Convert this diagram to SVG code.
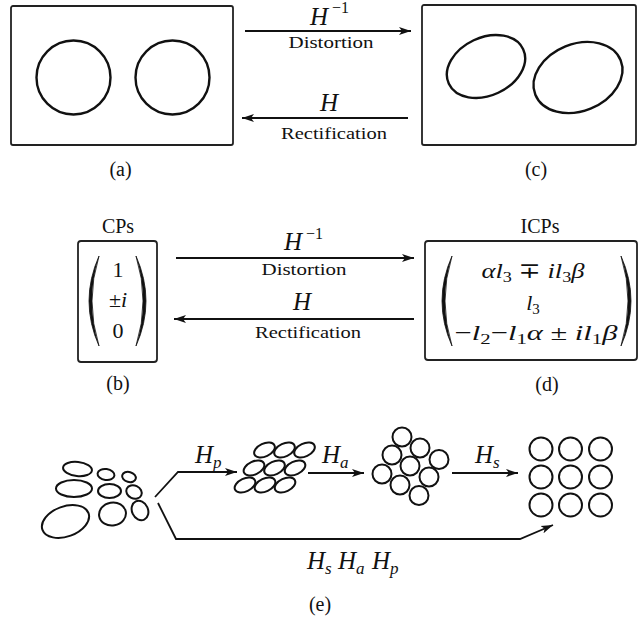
<svg xmlns="http://www.w3.org/2000/svg" width="639" height="628" viewBox="0 0 639 628">
<style>
  .box { fill: none; stroke: #222; stroke-width: 1.8; }
  .shape { fill: none; stroke: #111; stroke-width: 2.4; }
  .small { fill: none; stroke: #111; stroke-width: 2; }
  .line { fill: none; stroke: #111; stroke-width: 1.8; }
  .paren { fill: #111; stroke: #111; stroke-width: 0.8; }
  text { font-family: 'Liberation Serif', 'Times New Roman', 'DejaVu Serif', serif; fill: #111; }
  .lbl { font-size: 20px; text-anchor: middle; }
  .word { font-size: 16px; text-anchor: middle; }
  .math { font-size: 25px; font-style: italic; }
  .mat { font-size: 22px; text-anchor: middle; }
  .it { font-style: italic; }
</style>
<defs>
  <marker id="arr" markerUnits="userSpaceOnUse" markerWidth="13" markerHeight="9" refX="12" refY="4.5" orient="auto">
    <path d="M0,0.5 L12,4.5 L0,8.5 L3,4.5 Z" fill="#111"/>
  </marker>
</defs>

<g font-family="Liberation Serif, Times New Roman, serif">
<!-- (a) -->
<g id="node-a">
  <rect class="box" x="11" y="6" width="222" height="139" rx="2"/>
  <circle class="shape" cx="73.5" cy="77.5" r="37"/>
  <circle class="shape" cx="172.5" cy="77.5" r="37"/>
  <text class="lbl" x="120.5" y="176">(a)</text>
</g>

<!-- (c) -->
<g id="node-c">
  <rect class="box" x="422" y="5" width="214" height="140" rx="2"/>
  <ellipse class="shape" cx="486" cy="66.5" rx="41" ry="29" transform="rotate(-25 486 66.5)"/>
  <ellipse class="shape" cx="578" cy="77.5" rx="46" ry="33.5" transform="rotate(-22 578 77.5)"/>
  <text class="lbl" x="536" y="176">(c)</text>
</g>

<!-- (b) -->
<g id="node-b">
  <text class="lbl" x="118" y="233">CPs</text>
  <rect class="box" x="78" y="241" width="79" height="121" rx="3"/>
  <path class="paren" d="M99,256 Q79,301 99,346 Q85,301 99,256 Z"/>
  <path class="paren" d="M136,256 Q156,301 136,346 Q150,301 136,256 Z"/>
  <text class="mat" x="118" y="277">1</text>
  <text class="mat" x="118" y="307">±<tspan class="it">i</tspan></text>
  <text class="mat" x="118" y="338">0</text>
  <text class="lbl" x="118" y="390">(b)</text>
</g>

<!-- (d) -->
<g id="node-d">
  <text class="lbl" x="540" y="233">ICPs</text>
  <rect class="box" x="425" y="241" width="212" height="119" rx="3"/>
  <path class="paren" d="M452,256 Q432,301 452,346 Q438,301 452,256 Z"/>
  <path class="paren" d="M621,256 Q641,301 621,346 Q635,301 621,256 Z"/>
  <text class="mat" x="533" y="278" textLength="103" lengthAdjust="spacingAndGlyphs"><tspan class="it">αl</tspan><tspan font-size="15" dy="4">3</tspan><tspan dy="-4"> ∓ </tspan><tspan class="it">il</tspan><tspan font-size="15" dy="4">3</tspan><tspan class="it" dy="-4">β</tspan></text>
  <text class="mat" x="533" y="310"><tspan class="it">l</tspan><tspan font-size="15" dy="4">3</tspan></text>
  <text class="mat" x="536" y="340" textLength="163" lengthAdjust="spacingAndGlyphs">−<tspan class="it">l</tspan><tspan font-size="15" dy="4">2</tspan><tspan dy="-4">−</tspan><tspan class="it">l</tspan><tspan font-size="15" dy="4">1</tspan><tspan class="it" dy="-4">α</tspan><tspan> ± </tspan><tspan class="it">il</tspan><tspan font-size="15" dy="4">1</tspan><tspan class="it" dy="-4">β</tspan></text>
  <text class="lbl" x="547" y="391">(d)</text>
</g>

<!-- (e) stages -->
<g id="node-e1">
  <ellipse class="small" cx="77.5" cy="469" rx="14.5" ry="7" transform="rotate(6 77.5 469)"/>
  <ellipse class="small" cx="106" cy="474.5" rx="8.5" ry="5.5" transform="rotate(8 106 474.5)"/>
  <ellipse class="small" cx="129" cy="477" rx="7" ry="5" transform="rotate(15 129 477)"/>
  <ellipse class="small" cx="74" cy="488.5" rx="18" ry="8.5"/>
  <ellipse class="small" cx="109.5" cy="491" rx="11.5" ry="7"/>
  <ellipse class="small" cx="134" cy="492" rx="8" ry="6.5" transform="rotate(25 134 492)"/>
  <ellipse class="small" cx="65.5" cy="521.5" rx="24.5" ry="15" transform="rotate(-20 65.5 521.5)"/>
  <ellipse class="small" cx="112.5" cy="514" rx="13.5" ry="11.5" transform="rotate(-10 112.5 514)"/>
  <ellipse class="small" cx="140" cy="510.5" rx="8" ry="10" transform="rotate(-25 140 510.5)"/>
</g>

<g id="node-e2">
  <ellipse class="small" cx="264.5" cy="450" rx="11" ry="6.5" transform="rotate(-25 264.5 450)"/>
  <ellipse class="small" cx="284.5" cy="450" rx="11" ry="6.5" transform="rotate(-25 284.5 450)"/>
  <ellipse class="small" cx="304.5" cy="450" rx="11" ry="6.5" transform="rotate(-25 304.5 450)"/>
  <ellipse class="small" cx="254" cy="468" rx="11" ry="6.5" transform="rotate(-25 254 468)"/>
  <ellipse class="small" cx="274.5" cy="468" rx="11" ry="6.5" transform="rotate(-25 274.5 468)"/>
  <ellipse class="small" cx="295" cy="468" rx="11" ry="6.5" transform="rotate(-25 295 468)"/>
  <ellipse class="small" cx="245" cy="485" rx="11" ry="6.5" transform="rotate(-25 245 485)"/>
  <ellipse class="small" cx="265" cy="485" rx="11" ry="6.5" transform="rotate(-25 265 485)"/>
  <ellipse class="small" cx="285" cy="485" rx="11" ry="6.5" transform="rotate(-25 285 485)"/>
</g>

<g id="node-e3">
  <circle class="small" cx="402" cy="437" r="9.5"/>
  <circle class="small" cx="420" cy="448" r="9.5"/>
  <circle class="small" cx="439" cy="459.5" r="9.5"/>
  <circle class="small" cx="392" cy="455" r="9.5"/>
  <circle class="small" cx="410" cy="466" r="9.5"/>
  <circle class="small" cx="429" cy="477" r="9.5"/>
  <circle class="small" cx="382" cy="474" r="9.5"/>
  <circle class="small" cx="400" cy="485" r="9.5"/>
  <circle class="small" cx="419" cy="495.5" r="9.5"/>
</g>

<g id="node-e4">
  <circle class="small" cx="541" cy="449" r="11.5"/>
  <circle class="small" cx="570.5" cy="449" r="11.5"/>
  <circle class="small" cx="600.5" cy="449" r="11.5"/>
  <circle class="small" cx="541" cy="477" r="11.5"/>
  <circle class="small" cx="570.5" cy="477" r="11.5"/>
  <circle class="small" cx="600.5" cy="477" r="11.5"/>
  <circle class="small" cx="541" cy="505" r="11.5"/>
  <circle class="small" cx="570.5" cy="505" r="11.5"/>
  <circle class="small" cx="600.5" cy="505" r="11.5"/>
  <text class="lbl" x="320" y="611">(e)</text>
</g>

<!-- connectors -->
<g id="connectors">
  <line class="line" x1="245" y1="31" x2="411" y2="31" marker-end="url(#arr)"/>
  <line class="line" x1="408" y1="118" x2="242" y2="118" marker-end="url(#arr)"/>
  <line class="line" x1="176" y1="258" x2="414" y2="258" marker-end="url(#arr)"/>
  <line class="line" x1="414" y1="319" x2="174" y2="319" marker-end="url(#arr)"/>
  <polyline class="line" points="155,497 178,472 237,472" marker-end="url(#arr)"/>
  <polyline class="line" points="158,503 176,539 520,539 553,525" marker-end="url(#arr)"/>
  <line class="line" x1="308" y1="473" x2="364" y2="473" marker-end="url(#arr)"/>
  <line class="line" x1="452" y1="473" x2="518" y2="473" marker-end="url(#arr)"/>

  <text class="math" x="310" y="25">H</text>
  <text x="332" y="13" font-size="16">−1</text>
  <text class="word" x="331" y="48" textLength="85" lengthAdjust="spacingAndGlyphs">Distortion</text>
  <text class="math" x="320" y="111">H</text>
  <text class="word" x="334" y="139" textLength="106" lengthAdjust="spacingAndGlyphs">Rectification</text>

  <text class="math" x="284" y="250">H</text>
  <text x="306" y="239" font-size="16">−1</text>
  <text class="word" x="304" y="275" textLength="85" lengthAdjust="spacingAndGlyphs">Distortion</text>
  <text class="math" x="293" y="310">H</text>
  <text class="word" x="308" y="338" textLength="106" lengthAdjust="spacingAndGlyphs">Rectification</text>

  <text class="math" x="195" y="463">H<tspan font-size="17" dy="5">p</tspan></text>
  <text class="math" x="322" y="463">H<tspan font-size="17" dy="5">a</tspan></text>
  <text class="math" x="475" y="463">H<tspan font-size="17" dy="5">s</tspan></text>
  <text class="math" x="307" y="569">H<tspan font-size="17" dy="5">s</tspan><tspan dy="-5" x="338">H</tspan><tspan font-size="17" dy="5">a</tspan><tspan dy="-5" x="372">H</tspan><tspan font-size="17" dy="5">p</tspan></text>
</g>
</g>
</svg>
